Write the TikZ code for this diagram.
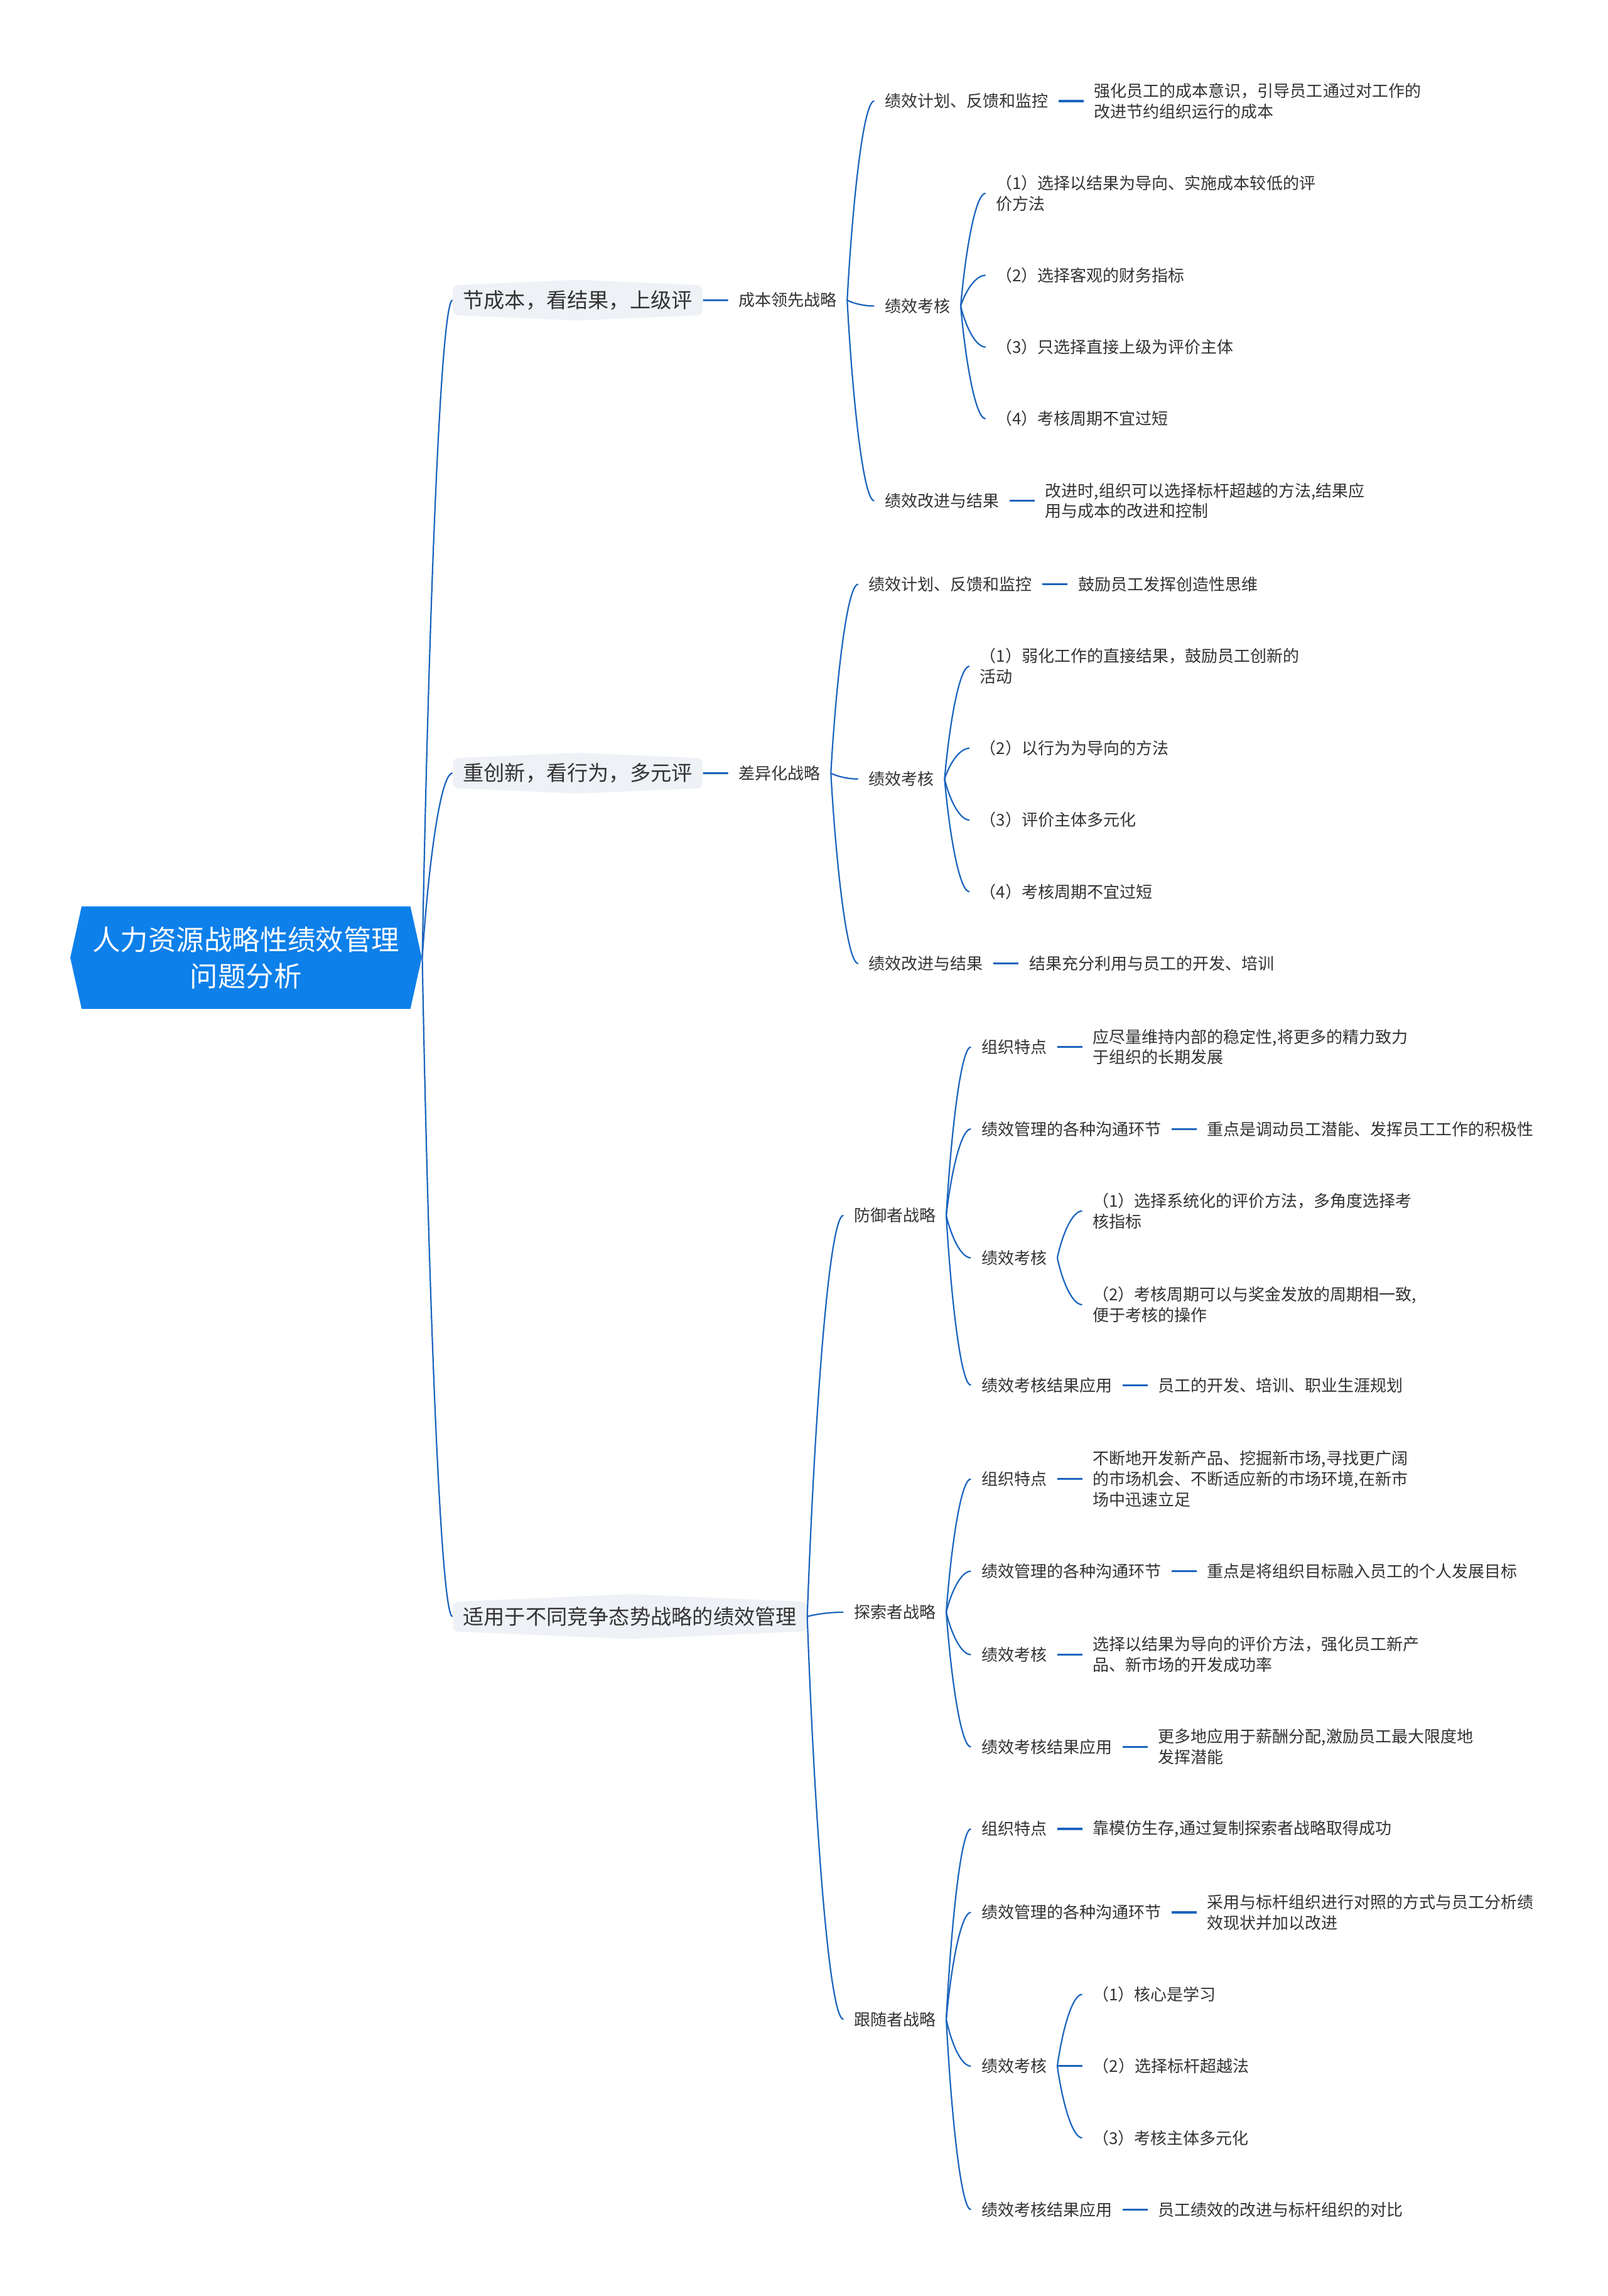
\documentclass[tikz,border=0pt]{standalone}
\usepackage{fontspec}
\setmainfont{Noto Sans CJK SC}
\usetikzlibrary{positioning, calc, shapes.symbols}
\definecolor{cblue}{HTML}{0E80EA}
\definecolor{cline}{HTML}{1A64BE}
\definecolor{cgrey}{HTML}{EEF1F5}
\definecolor{ctext}{HTML}{333333}
\tikzset{
  root/.style={signal, signal to=west and east, signal pointer angle=155, fill=cblue, text=white,
    font=\fontsize{11.1pt}{14.6pt}\selectfont, align=center, minimum width=139.9pt, minimum height=40.8pt, inner sep=0pt},
  topic/.style={signal, signal to=north and south, signal pointer angle=175, fill=cgrey, rounded corners=2pt,
    text=ctext, font=\fontsize{8.3pt}{10pt}\selectfont, inner xsep=4pt, inner ysep=2pt, minimum height=14.5pt, anchor=west},
  item/.style={text=ctext, font=\fontsize{6.5pt}{8.2pt}\selectfont, align=left, inner xsep=4pt, inner ysep=1pt, anchor=west},
  link/.style={draw=cline, line width=0.55pt, to path={let \p1=(\tikztostart), \p2=(\tikztotarget) in
    .. controls ({\x1+0.2*(\x2-\x1)},{\y1+0.5*(\y2-\y1)}) and ({\x1+0.6*(\x2-\x1)},{\y2}) .. (\tikztotarget)}},
  stub/.style={draw=cline, line width=0.8pt},
}

\begin{document}
\begin{tikzpicture}[x=0.5829pt, y=-0.5829pt, node distance=10pt]
  \path[use as bounding box, fill=white] (0,0) rectangle (1098,1568);
  % root and the three topics
  \node[root] (root) at (168,654) {人力资源战略性绩效管理\\问题分析};
  \node[topic] (ta) at (309,205) {节成本，看结果，上级评};
  \node[topic] (tb) at (309,528) {重创新，看行为，多元评};
  \node[topic] (tc) at (309,1104) {适用于不同竞争态势战略的绩效管理};
  \foreach \t in {ta,tb,tc} \draw[link] (root.east) to (\t.west);

  % cost leadership
  \node[item, right=of ta] (sa) {成本领先战略};
  \draw[stub] (ta) -- (sa);
  \node[item] (a1) at (597,69) {绩效计划、反馈和监控};
  \node[item] (a2) at (597,209) {绩效考核};
  \node[item] (a3) at (597,342) {绩效改进与结果};
  \foreach \c in {a1,a2,a3} \draw[link] (sa.east) to (\c.west);
  \node[item, right=of a1] (a1x) {强化员工的成本意识，引导员工通过对工作的\\改进节约组织运行的成本};
  \node[item, right=of a3] (a3x) {改进时,组织可以选择标杆超越的方法,结果应\\用与成本的改进和控制};
  \draw[stub] (a1) -- (a1x); \draw[stub] (a3) -- (a3x);
  \node[item] (a21) at (673,132) {（1）选择以结果为导向、实施成本较低的评\\价方法};
  \node[item] (a22) at (673,188) {（2）选择客观的财务指标};
  \node[item] (a23) at (673,237) {（3）只选择直接上级为评价主体};
  \node[item] (a24) at (673,286) {（4）考核周期不宜过短};
  \foreach \c in {a21,a22,a23,a24} \draw[link] (a2.east) to (\c.west);

  % differentiation
  \node[item, right=of tb] (sb) {差异化战略};
  \draw[stub] (tb) -- (sb);
  \node[item] (b1) at (586,399) {绩效计划、反馈和监控};
  \node[item] (b2) at (586,532) {绩效考核};
  \node[item] (b3) at (586,658) {绩效改进与结果};
  \foreach \c in {b1,b2,b3} \draw[link] (sb.east) to (\c.west);
  \node[item, right=of b1] (b1x) {鼓励员工发挥创造性思维};
  \node[item, right=of b3] (b3x) {结果充分利用与员工的开发、培训};
  \draw[stub] (b1) -- (b1x); \draw[stub] (b3) -- (b3x);
  \node[item] (b21) at (662,455) {（1）弱化工作的直接结果，鼓励员工创新的\\活动};
  \node[item] (b22) at (662,511) {（2）以行为为导向的方法};
  \node[item] (b23) at (662,560) {（3）评价主体多元化};
  \node[item] (b24) at (662,609) {（4）考核周期不宜过短};
  \foreach \c in {b21,b22,b23,b24} \draw[link] (b2.east) to (\c.west);

  % competitive strategies
  \node[item] (sd) at (576,830) {防御者战略};
  \node[item] (se) at (576,1101) {探索者战略};
  \node[item] (sf) at (576,1379) {跟随者战略};
  \foreach \s in {sd,se,sf} \draw[link] (tc.east) to (\s.west);

  % defender
  \node[item] (d1) at (663,715) {组织特点};
  \node[item] (d2) at (663,771) {绩效管理的各种沟通环节};
  \node[item] (d3) at (663,859) {绩效考核};
  \node[item] (d4) at (663,946) {绩效考核结果应用};
  \foreach \c in {d1,d2,d3,d4} \draw[link] (sd.east) to (\c.west);
  \node[item, right=of d1] (d1x) {应尽量维持内部的稳定性,将更多的精力致力\\于组织的长期发展};
  \node[item, right=of d2] (d2x) {重点是调动员工潜能、发挥员工工作的积极性};
  \node[item, right=of d4] (d4x) {员工的开发、培训、职业生涯规划};
  \draw[stub] (d1) -- (d1x); \draw[stub] (d2) -- (d2x); \draw[stub] (d4) -- (d4x);
  \node[item] (d31) at (739,827) {（1）选择系统化的评价方法，多角度选择考\\核指标};
  \node[item] (d32) at (739,891) {（2）考核周期可以与奖金发放的周期相一致,\\便于考核的操作};
  \foreach \c in {d31,d32} \draw[link] (d3.east) to (\c.west);

  % prospector
  \node[item] (e1) at (663,1010) {组织特点};
  \node[item] (e2) at (663,1073) {绩效管理的各种沟通环节};
  \node[item] (e3) at (663,1130) {绩效考核};
  \node[item] (e4) at (663,1193) {绩效考核结果应用};
  \foreach \c in {e1,e2,e3,e4} \draw[link] (se.east) to (\c.west);
  \node[item, right=of e1] (e1x) {不断地开发新产品、挖掘新市场,寻找更广阔\\的市场机会、不断适应新的市场环境,在新市\\场中迅速立足};
  \node[item, right=of e2] (e2x) {重点是将组织目标融入员工的个人发展目标};
  \node[item, right=of e3] (e3x) {选择以结果为导向的评价方法，强化员工新产\\品、新市场的开发成功率};
  \node[item, right=of e4] (e4x) {更多地应用于薪酬分配,激励员工最大限度地\\发挥潜能};
  \draw[stub] (e1) -- (e1x); \draw[stub] (e2) -- (e2x);
  \draw[stub] (e3) -- (e3x); \draw[stub] (e4) -- (e4x);

  % follower
  \node[item] (f1) at (663,1249) {组织特点};
  \node[item] (f2) at (663,1306) {绩效管理的各种沟通环节};
  \node[item] (f3) at (663,1411) {绩效考核};
  \node[item] (f4) at (663,1509) {绩效考核结果应用};
  \foreach \c in {f1,f2,f3,f4} \draw[link] (sf.east) to (\c.west);
  \node[item, right=of f1] (f1x) {靠模仿生存,通过复制探索者战略取得成功};
  \node[item, right=of f2] (f2x) {采用与标杆组织进行对照的方式与员工分析绩\\效现状并加以改进};
  \node[item, right=of f4] (f4x) {员工绩效的改进与标杆组织的对比};
  \draw[stub] (f1) -- (f1x); \draw[stub] (f2) -- (f2x); \draw[stub] (f4) -- (f4x);
  \node[item] (f31) at (739,1362) {（1）核心是学习};
  \node[item, right=of f3] (f32) {（2）选择标杆超越法};
  \node[item] (f33) at (739,1460) {（3）考核主体多元化};
  \draw[link] (f3.east) to (f31.west); \draw[stub] (f3) -- (f32); \draw[link] (f3.east) to (f33.west);
\end{tikzpicture}
\end{document}
